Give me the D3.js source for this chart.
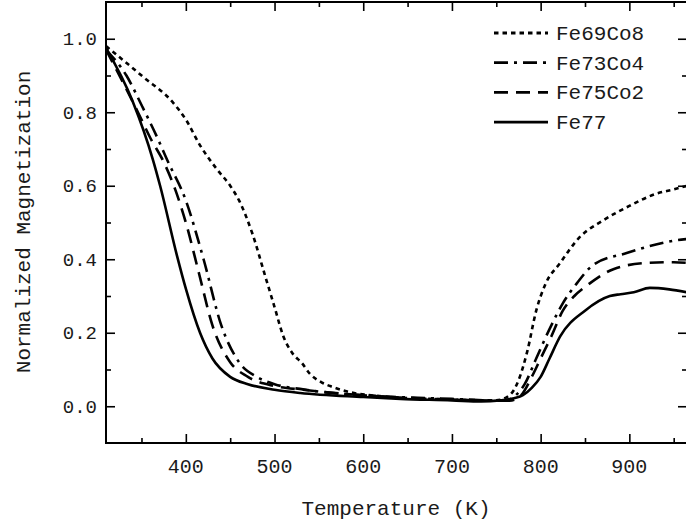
<!DOCTYPE html>
<html>
<head>
<meta charset="utf-8">
<script src="https://cdn.jsdelivr.net/npm/d3@7"></script>
<style>
  body { margin: 0; background: #fff; }
  svg { display: block; }
  text { font-family: "Liberation Mono", "Courier New", monospace; fill: #1a1a1a; }
</style>
</head>
<body>
<script>
// DATA  (temperature in K, normalized magnetization)
var seriesNames = ["Fe69Co8", "Fe73Co4", "Fe75Co2", "Fe77"];

var fe69co8 = [[310,0.98],[352,0.896],[386,0.825],[400,0.78],[416,0.71],[435,0.645],[450,0.60],[460,0.56],
  [475,0.47],[490,0.35],[500,0.27],[510,0.19],[520,0.145],[531,0.117],[540,0.088],[553,0.065],[566,0.052],
  [582,0.04],[622,0.027],[680,0.02],[720,0.017],[750,0.016],[765,0.03],[775,0.07],[785,0.15],[795,0.26],
  [805,0.33],[822,0.39],[844,0.46],[870,0.505],[900,0.545],[930,0.578],[950,0.59],[965,0.60]];

var fe73co4 = [[310,0.97],[333,0.90],[351,0.815],[368,0.73],[379,0.67],[400,0.56],[420,0.40],[440,0.22],
  [460,0.12],[480,0.08],[500,0.06],[532,0.046],[550,0.04],[600,0.03],[700,0.02],[760,0.015],[772,0.03],
  [782,0.06],[795,0.13],[810,0.21],[825,0.28],[841,0.335],[859,0.384],[897,0.417],[930,0.44],[954,0.452],[965,0.455]];

var fe75co2 = [[310,0.97],[346,0.80],[360,0.73],[376,0.66],[388,0.59],[400,0.50],[415,0.36],[430,0.22],
  [450,0.12],[470,0.08],[500,0.055],[532,0.045],[550,0.04],[600,0.03],[700,0.018],[765,0.015],[778,0.03],
  [790,0.08],[800,0.13],[812,0.19],[825,0.26],[838,0.30],[853,0.33],[882,0.373],[920,0.39],[950,0.392],[965,0.39]];

var fe77 = [[310,0.975],[340,0.83],[363,0.67],[371,0.60],[390,0.41],[400,0.32],[416,0.20],[430,0.13],
  [450,0.08],[470,0.06],[500,0.045],[529,0.036],[600,0.025],[642,0.02],[700,0.016],[733,0.013],[754,0.016],
  [770,0.022],[780,0.03],[790,0.05],[800,0.08],[810,0.13],[822,0.19],[850,0.26],[878,0.30],[890,0.305],
  [905,0.31],[923,0.322],[945,0.318],[965,0.31]];

var xTicks = [400, 500, 600, 700, 800, 900];
var xMinor = [350, 450, 550, 650, 750, 850, 950];
var yTicks = [0.0, 0.2, 0.4, 0.6, 0.8, 1.0];
var yMinor = [0.1, 0.3, 0.5, 0.7, 0.9];

//GENERAL VARIABLES
var width = 686, height = 527;
var plotL = 106, plotT = 2, plotR = 687, plotB = 443;

var x = d3.scaleLinear().domain([310, 965]).range([plotL, plotR]);
var y = d3.scaleLinear().domain([-0.1, 1.1]).range([plotB, plotT]);

var dashes = ["4.5,4", "14,6,3,6", "14,8", null];
var allData = [fe69co8, fe73co4, fe75co2, fe77];

var svg = d3.select("body").append("svg")
    .attr("width", width)
    .attr("height", height);

var line = d3.line()
    .x(function(d) { return x(d[0]); })
    .y(function(d) { return y(d[1]); })
    .curve(d3.curveMonotoneX);

svg.append("clipPath").attr("id", "clip")
  .append("rect").attr("x", plotL).attr("y", plotT).attr("width", plotR - plotL).attr("height", plotB - plotT);

svg.append("g").attr("clip-path", "url(#clip)")
  .selectAll("path.curve")
  .data(allData)
  .enter().append("path")
    .attr("class", "curve")
    .attr("d", line)
    .attr("fill", "none")
    .attr("stroke", "#000")
    .attr("stroke-width", 2.6)
    .attr("stroke-dasharray", function(d, i) { return dashes[i]; });

// axes: frame with inward ticks on every side
svg.append("g").attr("transform", "translate(0," + plotB + ")")
    .call(d3.axisTop(x).tickValues(xTicks).tickSize(9).tickFormat(""));
svg.append("g").attr("transform", "translate(0," + plotB + ")")
    .call(d3.axisTop(x).tickValues(xMinor).tickSize(5).tickFormat(""));
svg.append("g").attr("transform", "translate(0," + plotT + ")")
    .call(d3.axisBottom(x).tickValues(xTicks).tickSize(9).tickFormat(""));
svg.append("g").attr("transform", "translate(0," + plotT + ")")
    .call(d3.axisBottom(x).tickValues(xMinor).tickSize(5).tickFormat(""));
svg.append("g").attr("transform", "translate(" + plotL + ",0)")
    .call(d3.axisRight(y).tickValues(yTicks).tickSize(9).tickFormat(""));
svg.append("g").attr("transform", "translate(" + plotL + ",0)")
    .call(d3.axisRight(y).tickValues(yMinor).tickSize(5).tickFormat(""));
svg.append("g").attr("transform", "translate(" + plotR + ",0)")
    .call(d3.axisLeft(y).tickValues(yTicks).tickSize(9).tickFormat(""));
svg.append("g").attr("transform", "translate(" + plotR + ",0)")
    .call(d3.axisLeft(y).tickValues(yMinor).tickSize(5).tickFormat(""));

svg.selectAll(".domain").remove();
svg.selectAll(".tick line").attr("stroke", "#000").attr("stroke-width", 1.6);

svg.append("rect")
    .attr("x", plotL).attr("y", plotT)
    .attr("width", plotR - plotL).attr("height", plotB - plotT)
    .attr("fill", "none").attr("stroke", "#000").attr("stroke-width", 2);

// tick labels
svg.selectAll("text.xlab")
  .data(xTicks)
  .enter().append("text")
    .attr("class", "xlab")
    .attr("x", function(d) { return x(d); })
    .attr("y", 473)
    .attr("text-anchor", "middle")
    .style("font-size", "20px")
    .text(function(d) { return d; });

svg.selectAll("text.ylab")
  .data(yTicks)
  .enter().append("text")
    .attr("class", "ylab")
    .attr("x", 97)
    .attr("y", function(d) { return y(d) + 6.5; })
    .attr("text-anchor", "end")
    .style("font-size", "19px")
    .text(function(d) { return d3.format(".1f")(d); });

// axis titles
svg.append("text")
    .attr("x", 396).attr("y", 515)
    .attr("text-anchor", "middle")
    .style("font-size", "21px")
    .text("Temperature (K)");

svg.append("text")
    .attr("transform", "translate(30,222) rotate(-90)")
    .attr("text-anchor", "middle")
    .style("font-size", "21px")
    .text("Normalized Magnetization");

// legend
var legend = svg.selectAll("g.legend")
  .data(seriesNames)
  .enter().append("g")
    .attr("class", "legend")
    .attr("transform", function(d, i) { return "translate(494," + (33 + i * 29.7) + ")"; });

legend.append("line")
    .attr("x1", 0).attr("x2", 54)
    .attr("stroke", "#000")
    .attr("stroke-width", 2.8)
    .attr("stroke-dasharray", function(d, i) { return dashes[i]; });

legend.append("text")
    .attr("x", 62).attr("y", 7)
    .style("font-size", "21px")
    .text(function(d) { return d; });
</script>
</body>
</html>
